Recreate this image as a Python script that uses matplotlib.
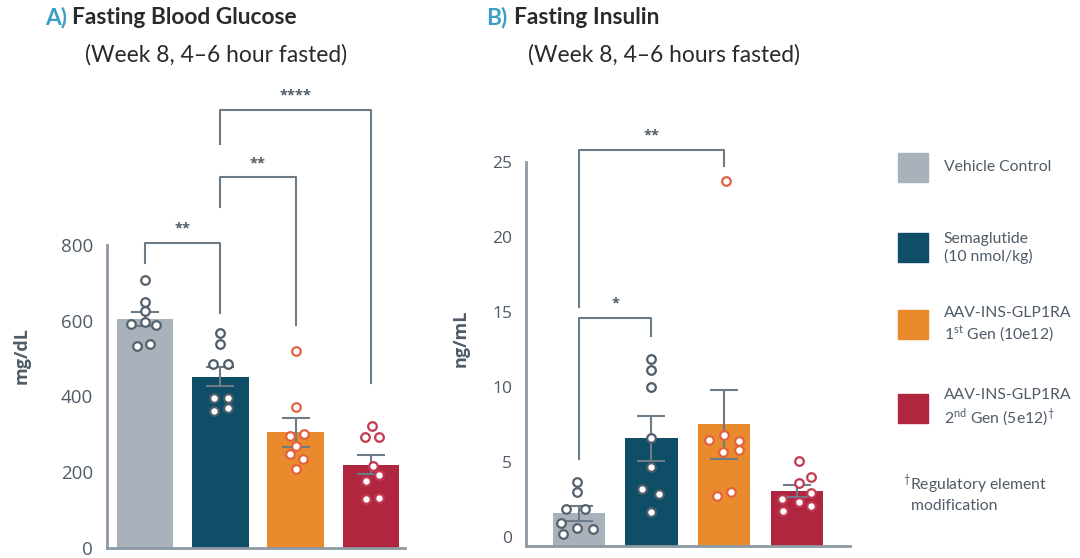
import matplotlib
matplotlib.use("Agg")
import matplotlib.pyplot as plt
from matplotlib.patches import Rectangle
import numpy as np

plt.rcParams['font.family'] = ['Open Sans', 'DejaVu Sans']
plt.rcParams['mathtext.fontset'] = 'custom'
plt.rcParams['mathtext.rm'] = 'Lato'

groups = ['Vehicle Control', 'Semaglutide\n(10 nmol/kg)',
          'AAV-INS-GLP1RA\n1$^{\\rm st}$ Gen (10e12)',
          'AAV-INS-GLP1RA\n2$^{\\rm nd}$ Gen (5e12)$^{\\dagger}$']

# fasting blood glucose, mg/dL
glu_mean = [604, 452, 305, 220]
glu_sem = [19, 25, 38, 26]
glu_pts = [[706, 650, 625, 590, 597, 587, 534, 539],
           [568, 538, 485, 485, 397, 397, 361, 368],
           [521, 371, 296, 300, 270, 247, 235, 208],
           [322, 294, 292, 215, 193, 177, 128, 133]]

# fasting insulin, ng/mL
ins_mean = [1.56, 6.55, 7.5, 3.05]
ins_sem = [0.52, 1.5, 2.3, 0.42]
ins_pts = [[3.67, 2.96, 1.83, 1.83, 0.89, 0.56, 0.49, 0.16],
           [11.87, 11.11, 10.0, 6.56, 4.67, 3.18, 2.85, 1.67],
           [23.69, 6.45, 6.78, 6.38, 5.63, 5.78, 2.71, 3.0],
           [5.07, 4.0, 3.6, 2.93, 2.49, 2.33, 1.73, 2.05]]

glu_ticks = [0, 200, 400, 600, 800]
ins_ticks = [0, 5, 10, 15, 20, 25]

# significance brackets: (group a, group b, top, left leg end, right leg end, label)
glu_sig = [(0, 1, 804, 751, 621, '**'),
           (1, 2, 978, 900, 588, '**'),
           (1, 3, 1156, 1066, 435, '****')]
ins_sig = [(0, 1, 14.6, 5.2, 13.4, '*'),
           (0, 2, 25.8, 15.3, 24.7, '**')]

bar_colors = ['#a9b1bb', '#0e4e66', '#e98b2d', '#b0263f']
edge_colors = ['#56626e', '#4f5d6a', '#e4613f', '#c23a52']
line_col = '#6d7a87'
text_col = '#4f5b67'

# horizontal scatter of the dots around each bar centre
glu_dx = [[0, 0, 0, -0.19, 0, 0.15, -0.11, 0.07],
          [0, 0, -0.1, 0.1, -0.09, 0.1, -0.09, 0.1],
          [0, 0, -0.08, 0.11, 0, -0.08, 0.1, 0],
          [0.01, -0.08, 0.1, 0.03, 0.11, -0.07, -0.07, 0.1]]
ins_dx = [[-0.02, -0.02, -0.17, 0.08, -0.24, -0.02, 0.19, -0.22],
          [0, 0, 0, 0, 0, -0.13, 0.1, 0],
          [0.02, -0.21, 0, 0.2, -0.01, 0.2, -0.1, 0.1],
          [0.03, 0.2, 0.03, 0.2, -0.2, 0.03, -0.19, 0.2]]


def draw_panel(ax, means, sems, pts, dx, ticks, ymin, ymax, width, sig, tick_fs):
    x = np.arange(len(means))
    ax.bar(x, np.array(means) - ymin, bottom=ymin, width=width,
           color=bar_colors, zorder=1)
    for i in range(len(means)):
        ax.errorbar(x[i], means[i], yerr=sems[i], fmt='none', ecolor=line_col,
                    elinewidth=1.5, capsize=10, capthick=1.5, zorder=2)
        ax.plot(x[i] + np.array(dx[i]), pts[i], 'o', ms=6.2, mfc='white',
                mec=edge_colors[i], mew=1.6, zorder=3, clip_on=False)
    for a, b, top, la, lb, lab in sig:
        ax.plot([a, a, b, b], [la, top, top, lb], color=line_col, lw=1.5,
                clip_on=False, zorder=2)
        ax.text((a + b) / 2, top + (ymax - ymin) * 0.016, lab, ha='center',
                va='bottom', color=text_col, fontsize=10.5, fontweight='bold')
    ax.set_ylim(ymin, ymax)
    ax.set_yticks(ticks)
    ax.set_xticks([])
    ax.tick_params(axis='y', length=0, pad=10, labelsize=tick_fs, labelcolor=text_col)
    for s in ['top', 'right']:
        ax.spines[s].set_visible(False)
    ax.spines['left'].set_bounds(ymin, ticks[-1])
    for s in ['left', 'bottom']:
        ax.spines[s].set_color('#8e99a4')
        ax.spines[s].set_linewidth(2)


fig = plt.figure(figsize=(10.8, 5.58), dpi=100)

axA = fig.add_axes([0.099, 0.018, 0.276, 0.815])
draw_panel(axA, glu_mean, glu_sem, glu_pts, glu_dx, glu_ticks, 0, 1200, 0.75,
           glu_sig, 13.5)
axA.set_xlim(-0.505, 3.45)
axA.set_ylabel('mg/dL', fontsize=13, fontweight='bold', color=text_col)
axA.yaxis.set_label_coords(-0.255, 0.424)

axB = fig.add_axes([0.487, 0.022, 0.3, 0.769])
draw_panel(axB, ins_mean, ins_sem, ins_pts, ins_dx, ins_ticks, -0.6, 28, 0.72,
           ins_sig, 12.5)
axB.set_xlim(-0.725, 3.73)
axB.set_ylabel('ng/mL', fontsize=13, fontweight='bold', color=text_col)
axB.yaxis.set_label_coords(-0.173, 0.484)

# panel titles
title_col = '#2a2a2a'
head = dict(family=['Lato', 'DejaVu Sans'], va='center', fontsize=16.4)
fig.text(0.042, 0.968, 'A)', color='#3a9fc6', fontweight='bold', **head)
fig.text(0.067, 0.968, 'Fasting Blood Glucose', color=title_col,
         fontweight='bold', **head)
fig.text(0.079, 0.902, '(Week 8, 4\u20136 hour fasted)', color=title_col, **head)
fig.text(0.450, 0.968, 'B)', color='#3a9fc6', fontweight='bold', **head)
fig.text(0.476, 0.968, 'Fasting Insulin', color=title_col, fontweight='bold', **head)
fig.text(0.489, 0.902, '(Week 8, 4\u20136 hours fasted)', color=title_col, **head)

# legend
leg = dict(family=['Lato', 'DejaVu Sans'], color=text_col, fontsize=11.3,
           va='center', linespacing=1.25)
leg_y = [0.70, 0.556, 0.418, 0.268]
for c, lab, y in zip(bar_colors, groups, leg_y):
    fig.add_artist(Rectangle((0.8315, y - 0.026), 0.0275, 0.052, color=c,
                             transform=fig.transFigure))
    fig.text(0.874, y, lab, **leg)
fig.text(0.836, 0.117, '$^{\\dagger}$Regulatory element\n  modification', **leg)

fig.savefig('out.png', dpi=100)
